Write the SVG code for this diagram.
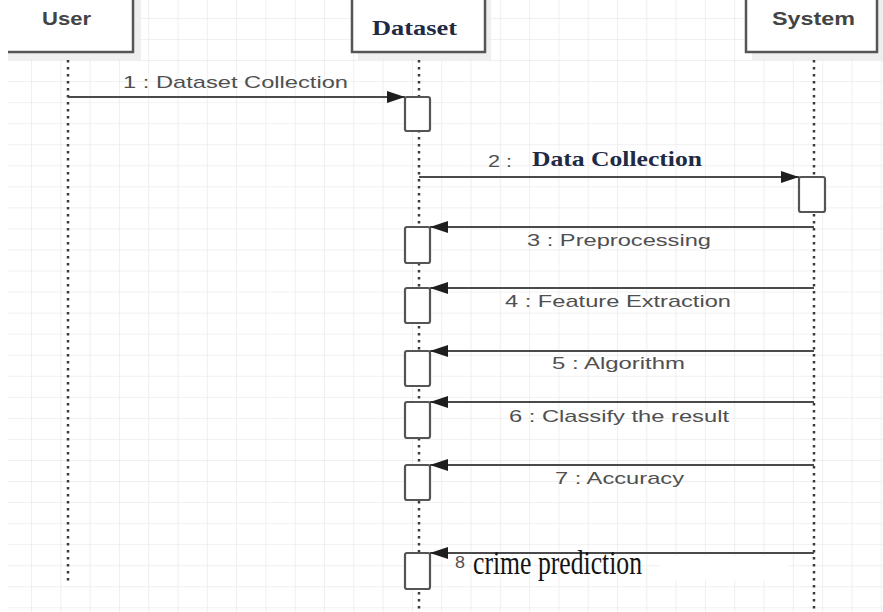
<svg xmlns="http://www.w3.org/2000/svg" width="883" height="612" viewBox="0 0 883 612">
  <defs>
    <pattern id="grid" x="2.7" y="-2.15" width="29.3" height="21.05" patternUnits="userSpaceOnUse">
      <path d="M29.3,0 V21.05 M0,21.05 H29.3" fill="none" stroke="#ebebeb" stroke-width="1.5"/>
    </pattern>
    <marker id="head" viewBox="0 0 18 12" refX="18" refY="6" markerWidth="18" markerHeight="12" markerUnits="userSpaceOnUse" orient="auto">
      <path d="M0,0 L18,6 L0,12 z" fill="#1e1e1e"/>
    </marker>
  </defs>
  <style>
    .hdr { fill: #ffffff; stroke: #555555; stroke-width: 2.5; }
    .shadow { fill: #eeeeee; }
    .life { stroke: #3a3a3a; stroke-width: 2.5; stroke-dasharray: 2.5 4.5; fill: none; }
    .act { fill: #ffffff; stroke: #555555; stroke-width: 2.2; }
    .msg { stroke: #4a4a4a; stroke-width: 2; fill: none; marker-end: url(#head); }
    .lbl { font-family: "Liberation Sans", Arial, sans-serif; font-size: 17px; fill: #505050; }
    .name { font-family: "Liberation Sans", Arial, sans-serif; font-size: 18px; font-weight: bold; fill: #444444; }
    .serif { font-family: "Liberation Serif", "Times New Roman", serif; fill: #1f2a44; }
  </style>

  <!-- page and grid -->
  <rect x="0" y="0" width="883" height="612" fill="#ffffff"/>
  <rect x="8" y="0" width="875" height="612" fill="url(#grid)"/>

  <!-- lifelines -->
  <g id="lifelines">
    <line class="life" x1="68" y1="53" x2="68" y2="584"/>
    <line class="life" x1="419" y1="53" x2="419" y2="612"/>
    <line class="life" x1="814" y1="53" x2="814" y2="612"/>
  </g>

  <!-- participant heads -->
  <g id="user">
    <rect class="shadow" x="8" y="-10" width="133" height="70"/>
    <rect class="hdr" x="-10" y="-10" width="143" height="62"/>
    <rect x="0" y="0" width="8" height="612" fill="#ffffff"/>
    <text class="name" x="42" y="25" textLength="49" lengthAdjust="spacingAndGlyphs">User</text>
  </g>
  <g id="dataset">
    <rect class="shadow" x="358" y="-10" width="133" height="70"/>
    <rect class="hdr" x="352" y="-10" width="133" height="62"/>
    <text class="serif" x="372" y="35" font-size="20" font-weight="bold" textLength="85" lengthAdjust="spacingAndGlyphs">Dataset</text>
  </g>
  <g id="system">
    <rect class="shadow" x="752" y="-10" width="131" height="70"/>
    <rect class="hdr" x="746" y="-10" width="131" height="62"/>
    <text class="name" x="772" y="25" textLength="83" lengthAdjust="spacingAndGlyphs">System</text>
  </g>

  <!-- activation bars -->
  <g id="activations">
    <rect class="act" x="405" y="97" width="25" height="34" rx="2"/>
    <rect class="act" x="799" y="177" width="26" height="35" rx="2"/>
    <rect class="act" x="405" y="227" width="25" height="36" rx="2"/>
    <rect class="act" x="405" y="288" width="25" height="35" rx="2"/>
    <rect class="act" x="405" y="351" width="25" height="35" rx="2"/>
    <rect class="act" x="405" y="402" width="25" height="36" rx="2"/>
    <rect class="act" x="405" y="465" width="25" height="35" rx="2"/>
    <rect class="act" x="405" y="553" width="25" height="36" rx="2"/>
  </g>

  <!-- messages -->
  <g id="connectors">
    <line class="msg" x1="68" y1="97" x2="405" y2="97"/>
    <line class="msg" x1="419" y1="177" x2="799" y2="177"/>
    <line class="msg" x1="814" y1="227" x2="430" y2="227"/>
    <line class="msg" x1="814" y1="288" x2="430" y2="288"/>
    <line class="msg" x1="814" y1="351" x2="430" y2="351"/>
    <line class="msg" x1="814" y1="402" x2="430" y2="402"/>
    <line class="msg" x1="814" y1="465" x2="430" y2="465"/>
    <line class="msg" x1="814" y1="553" x2="430" y2="553"/>
  </g>

  <!-- message labels -->
  <g id="labels">
    <text class="lbl" x="123" y="88" textLength="225" lengthAdjust="spacingAndGlyphs">1 : Dataset Collection</text>
    <text class="lbl" x="488" y="167" textLength="24" lengthAdjust="spacingAndGlyphs">2 :</text>
    <text class="serif" x="532" y="166" font-size="21" font-weight="bold" textLength="170" lengthAdjust="spacingAndGlyphs">Data Collection</text>
    <text class="lbl" x="527" y="246" textLength="184" lengthAdjust="spacingAndGlyphs">3 : Preprocessing</text>
    <text class="lbl" x="505" y="307" textLength="226" lengthAdjust="spacingAndGlyphs">4 : Feature Extraction</text>
    <text class="lbl" x="552" y="369" textLength="133" lengthAdjust="spacingAndGlyphs">5 : Algorithm</text>
    <text class="lbl" x="509" y="422" textLength="220" lengthAdjust="spacingAndGlyphs">6 : Classify the result</text>
    <text class="lbl" x="555" y="484" textLength="129" lengthAdjust="spacingAndGlyphs">7 : Accuracy</text>
    <rect x="660" y="556" width="128" height="24" fill="#ffffff"/>
    <text class="lbl" x="455" y="568" font-size="13" textLength="10" lengthAdjust="spacingAndGlyphs">8</text>
    <text class="serif" x="473" y="574" font-size="33" style="fill:#141414" textLength="169" lengthAdjust="spacingAndGlyphs">crime prediction</text>
  </g>
</svg>
